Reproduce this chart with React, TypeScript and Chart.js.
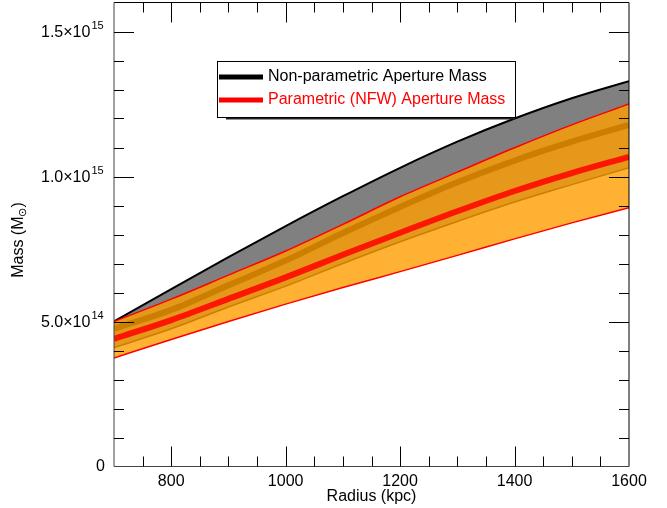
import React, { useEffect, useRef } from "react";
import { Chart, registerables } from "chart.js";

Chart.register(...registerables);

// Radius in kpc
const radius = [700, 800, 900, 1000, 1100, 1200, 1300, 1400, 1500, 1600];
// Masses in units of 1e15 Msun
const nonParamUpper = [0.5, 0.612, 0.722, 0.829, 0.932, 1.03, 1.12, 1.2, 1.27, 1.329];
const nonParamMean = [0.475, 0.54, 0.625, 0.71, 0.805, 0.895, 0.98, 1.055, 1.12, 1.178];
const nonParamLower = [0.41, 0.475, 0.55, 0.622, 0.7, 0.775, 0.845, 0.912, 0.972, 1.03];
const nfwUpper = [0.5, 0.577, 0.66, 0.743, 0.835, 0.93, 1.015, 1.099, 1.178, 1.25];
const nfwMean = [0.44, 0.505, 0.578, 0.652, 0.73, 0.806, 0.88, 0.95, 1.012, 1.068];
const nfwLower = [0.374, 0.438, 0.5, 0.56, 0.617, 0.672, 0.728, 0.785, 0.84, 0.892];

const xMin = 700;
const xMax = 1600;
const yMin = 0;
const yMax = 1.6;
const xMajorTicks = [800, 1000, 1200, 1400, 1600];
const xMinorStep = 50;
const yMajorTicks = [0, 0.5, 1.0, 1.5];
const yMinorStep = 0.1;
const yTickMantissa = ["0", "5.0", "1.0", "1.5"];
const yTickExponent = ["", "14", "15", "15"];
const xTitle = "Radius (kpc)";
const yTitleMain = "Mass (M";
const yTitleSub = "\u2299";
const yTitleEnd = ")";
const legendLabels = ["Non-parametric Aperture Mass", "Parametric (NFW) Aperture Mass"];
const legendColors = ["#000000", "#ff0000"];

const FONT = '"Liberation Sans", Arial, Helvetica, sans-serif';

const pts = (arr: number[]) => radius.map((x, i) => ({ x, y: arr[i] }));

const idlAxes = {
  id: "idlAxes",
  afterDatasetsDraw(chart: any) {
    const { ctx, chartArea: a, scales } = chart;
    const sx = scales.x;
    const sy = scales.y;
    ctx.save();
    // frame
    ctx.strokeStyle = "#000";
    ctx.lineWidth = 1;
    ctx.beginPath();
    ctx.moveTo(a.left, a.top);
    ctx.lineTo(a.right, a.top);
    ctx.lineTo(a.right, a.bottom);
    ctx.stroke();
    ctx.strokeStyle = "#444";
    ctx.beginPath();
    ctx.moveTo(a.left, a.top);
    ctx.lineTo(a.left, a.bottom);
    ctx.lineTo(a.right, a.bottom);
    ctx.stroke();

    ctx.strokeStyle = "#000";
    // x ticks
    for (let v = xMin + xMinorStep; v < xMax; v += xMinorStep) {
      const major = xMajorTicks.includes(v);
      const len = major ? 20 : 10;
      const px = Math.round(sx.getPixelForValue(v)) + 0.5;
      ctx.beginPath();
      ctx.moveTo(px, a.bottom);
      ctx.lineTo(px, a.bottom - len);
      ctx.moveTo(px, a.top);
      ctx.lineTo(px, a.top + len);
      ctx.stroke();
    }
    // y ticks
    for (let k = 1; k * yMinorStep < yMax - 1e-9; k++) {
      const v = k * yMinorStep;
      const major = yMajorTicks.some((t) => Math.abs(t - v) < 1e-6);
      const len = major ? 20 : 10;
      const py = Math.round(sy.getPixelForValue(v)) + 0.5;
      ctx.beginPath();
      ctx.moveTo(a.left, py);
      ctx.lineTo(a.left + len, py);
      ctx.moveTo(a.right, py);
      ctx.lineTo(a.right - len, py);
      ctx.stroke();
    }

    // x labels
    ctx.fillStyle = "#000";
    ctx.font = `16px ${FONT}`;
    ctx.textAlign = "center";
    ctx.textBaseline = "middle";
    xMajorTicks.forEach((v) => {
      ctx.fillText(String(v), sx.getPixelForValue(v), a.bottom + 15);
    });
    ctx.fillText(xTitle, (a.left + a.right) / 2, a.bottom + 30);

    // y labels
    yMajorTicks.forEach((v, i) => {
      const py = sy.getPixelForValue(v);
      const mant = yTickMantissa[i];
      const exp = yTickExponent[i];
      ctx.textBaseline = "middle";
      if (!exp) {
        ctx.font = `16px ${FONT}`;
        ctx.textAlign = "right";
        ctx.fillText(mant, a.left - 9, py);
      } else {
        const main = mant + "\u00d710";
        ctx.font = `16px ${FONT}`;
        ctx.textAlign = "left";
        const x0 = a.left - 73;
        ctx.fillText(main, x0, py + 1);
        const w = ctx.measureText(main).width;
        ctx.font = `11px ${FONT}`;
        ctx.fillText(exp, x0 + w + 1, py - 6);
      }
    });

    // y title
    ctx.save();
    ctx.translate(19, 240);
    ctx.rotate(-Math.PI / 2);
    ctx.font = `16px ${FONT}`;
    const w1 = ctx.measureText(yTitleMain).width;
    ctx.font = `11px ${FONT}`;
    const w2 = ctx.measureText(yTitleSub).width;
    ctx.font = `16px ${FONT}`;
    const w3 = ctx.measureText(yTitleEnd).width;
    const total = w1 + w2 + w3;
    let cx = -total / 2;
    ctx.textAlign = "left";
    ctx.textBaseline = "middle";
    ctx.fillText(yTitleMain, cx, 0);
    cx += w1;
    ctx.font = `11px ${FONT}`;
    ctx.fillText(yTitleSub, cx, 4);
    cx += w2;
    ctx.font = `16px ${FONT}`;
    ctx.fillText(yTitleEnd, cx, 0);
    ctx.restore();

    // legend
    const lx = 217;
    const ly = 61;
    const lw = 298;
    const lh = 56;
    ctx.fillStyle = "#222";
    ctx.fillRect(lx + 9, ly + lh, lw - 9, 2.5);
    ctx.fillStyle = "#fff";
    ctx.fillRect(lx, ly, lw, lh);
    ctx.strokeStyle = "#000";
    ctx.lineWidth = 1;
    ctx.strokeRect(lx + 0.5, ly + 0.5, lw, lh);
    legendLabels.forEach((lab, i) => {
      const y = ly + 16 + i * 23;
      ctx.strokeStyle = legendColors[i];
      ctx.lineWidth = 5;
      ctx.beginPath();
      ctx.moveTo(lx + 2, y);
      ctx.lineTo(lx + 46, y);
      ctx.stroke();
      ctx.fillStyle = legendColors[i];
      ctx.font = `16px ${FONT}`;
      ctx.textAlign = "left";
      ctx.textBaseline = "middle";
      ctx.fillText(lab, lx + 51, y);
    });
    ctx.restore();
  },
};

export default function App() {
  const ref = useRef<HTMLCanvasElement | null>(null);
  useEffect(() => {
    if (!ref.current) return;
    const common = { pointRadius: 0, cubicInterpolationMode: "monotone" as const, tension: 0.4 };
    const chart = new Chart(ref.current, {
      type: "line",
      data: {
        datasets: [
          { ...common, data: pts(nonParamUpper), borderColor: "#000", borderWidth: 2, backgroundColor: "#808080", fill: 1, order: 10 },
          { ...common, data: pts(nonParamLower), borderColor: "#000", borderWidth: 1.5, fill: false, order: 9 },
          { ...common, data: pts(nonParamMean), borderColor: "#000", borderWidth: 6, fill: false, order: 8 },
          { ...common, data: pts(nfwUpper), borderColor: "#ff0000", borderWidth: 1.5, backgroundColor: "rgba(255,158,0,0.8)", fill: 4, order: 7 },
          { ...common, data: pts(nfwLower), borderColor: "#ff0000", borderWidth: 1.5, fill: false, order: 6 },
          { ...common, data: pts(nfwMean), borderColor: "rgba(255,0,0,0.85)", borderWidth: 6, fill: false, order: 5 },
        ],
      },
      options: {
        responsive: false,
        animation: false,
        devicePixelRatio: 1,
        layout: { padding: { left: 114, right: 38, top: 2.5, bottom: 41.5 } },
        plugins: { legend: { display: false }, tooltip: { enabled: false } },
        scales: {
          x: { type: "linear", min: xMin, max: xMax, display: false },
          y: { type: "linear", min: yMin, max: yMax, display: false },
        },
      },
      plugins: [idlAxes],
    });
    return () => chart.destroy();
  }, []);
  return (
    <div style={{ position: "absolute", left: 0, top: 0, width: 667, height: 508, background: "#fff" }}>
      <canvas ref={ref} width={667} height={508} style={{ display: "block" }} />
    </div>
  );
}
